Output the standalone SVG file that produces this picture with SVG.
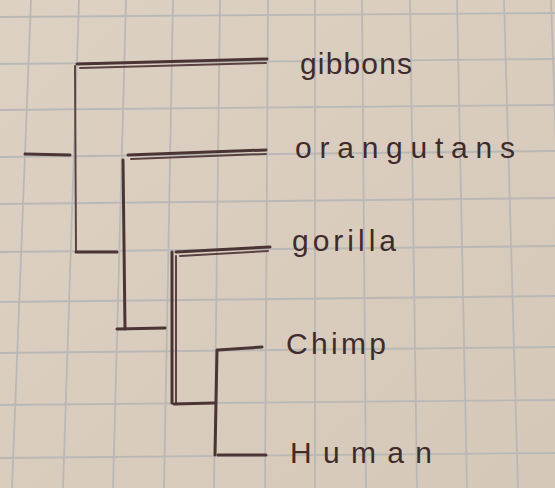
<svg xmlns="http://www.w3.org/2000/svg" width="555" height="488" viewBox="0 0 555 488">
<defs>
<linearGradient id="paper" x1="0" y1="0" x2="1" y2="1">
<stop offset="0" stop-color="#ddd1c3"/>
<stop offset="1" stop-color="#d6c8b9"/>
</linearGradient>
<style>
.grid{stroke:#bab8b6;stroke-width:1.8;fill:none}
.ink{stroke:#4b3434;stroke-width:3;fill:none;stroke-linecap:round}
.ink2{stroke:#5a4242;stroke-width:2;fill:none;stroke-linecap:round}
.lbl{font-family:"Liberation Sans","DejaVu Sans",sans-serif;font-size:30px;fill:#3f2b2b}
</style>
</defs>
<rect width="555" height="488" fill="url(#paper)"/>
<g id="grid">
<line class="grid" x1="31" y1="0" x2="12" y2="488"/>
<line class="grid" x1="79" y1="0" x2="63" y2="488"/>
<line class="grid" x1="126" y1="0" x2="113" y2="488"/>
<line class="grid" x1="173" y1="0" x2="164" y2="488"/>
<line class="grid" x1="220" y1="0" x2="214" y2="488"/>
<line class="grid" x1="268" y1="0" x2="265" y2="488"/>
<line class="grid" x1="315" y1="0" x2="315" y2="488"/>
<line class="grid" x1="362" y1="0" x2="366" y2="488"/>
<line class="grid" x1="410" y1="0" x2="417" y2="488"/>
<line class="grid" x1="457" y1="0" x2="467" y2="488"/>
<line class="grid" x1="504" y1="0" x2="518" y2="488"/>
<line class="grid" x1="551" y1="0" x2="568" y2="488"/>
<line class="grid" x1="0" y1="17" x2="555" y2="13"/>
<line class="grid" x1="0" y1="64" x2="555" y2="59"/>
<line class="grid" x1="0" y1="110" x2="555" y2="105"/>
<line class="grid" x1="0" y1="157" x2="555" y2="151"/>
<line class="grid" x1="0" y1="204" x2="555" y2="198"/>
<line class="grid" x1="0" y1="252" x2="555" y2="246"/>
<line class="grid" x1="0" y1="302" x2="555" y2="296"/>
<line class="grid" x1="0" y1="353" x2="555" y2="347"/>
<line class="grid" x1="0" y1="405" x2="555" y2="400"/>
<line class="grid" x1="0" y1="458" x2="555" y2="453"/>
</g>
<g id="connectors">
<line class="ink" x1="25" y1="154" x2="70" y2="155"/>
<line class="ink2" x1="75" y1="66" x2="76" y2="252"/>
<line class="ink" x1="76" y1="252" x2="117" y2="252"/>
<line class="ink" x1="123" y1="160" x2="125" y2="329"/>
<line class="ink" x1="117" y1="329" x2="165" y2="328"/>
<line class="ink" x1="172" y1="252" x2="172" y2="403"/>
<line class="ink2" x1="176" y1="256" x2="176" y2="404"/>
<line class="ink" x1="174" y1="404" x2="214" y2="403"/>
<line class="ink" x1="217" y1="350" x2="215" y2="455"/>
</g>
<g id="gibbons">
<line class="ink" x1="77" y1="64" x2="267" y2="59"/>
<line class="ink2" x1="80" y1="68" x2="266" y2="63"/>
<text class="lbl" x="300" y="74" textLength="112" lengthAdjust="spacing">gibbons</text>
</g>
<g id="orangutans">
<line class="ink" x1="128" y1="155" x2="266" y2="150"/>
<line class="ink2" x1="131" y1="159" x2="266" y2="154"/>
<text class="lbl" x="295" y="158" textLength="220" lengthAdjust="spacing">orangutans</text>
</g>
<g id="gorilla">
<line class="ink" x1="176" y1="252" x2="270" y2="247"/>
<line class="ink2" x1="180" y1="256" x2="268" y2="251"/>
<text class="lbl" x="292" y="251" textLength="104" lengthAdjust="spacing">gorilla</text>
</g>
<g id="chimp">
<line class="ink" x1="218" y1="350" x2="262" y2="347"/>
<text class="lbl" x="286" y="354" textLength="100" lengthAdjust="spacing">Chimp</text>
</g>
<g id="human">
<line class="ink" x1="218" y1="455" x2="266" y2="455"/>
<text class="lbl" x="290" y="463" textLength="142" lengthAdjust="spacing">Human</text>
</g>
</svg>
